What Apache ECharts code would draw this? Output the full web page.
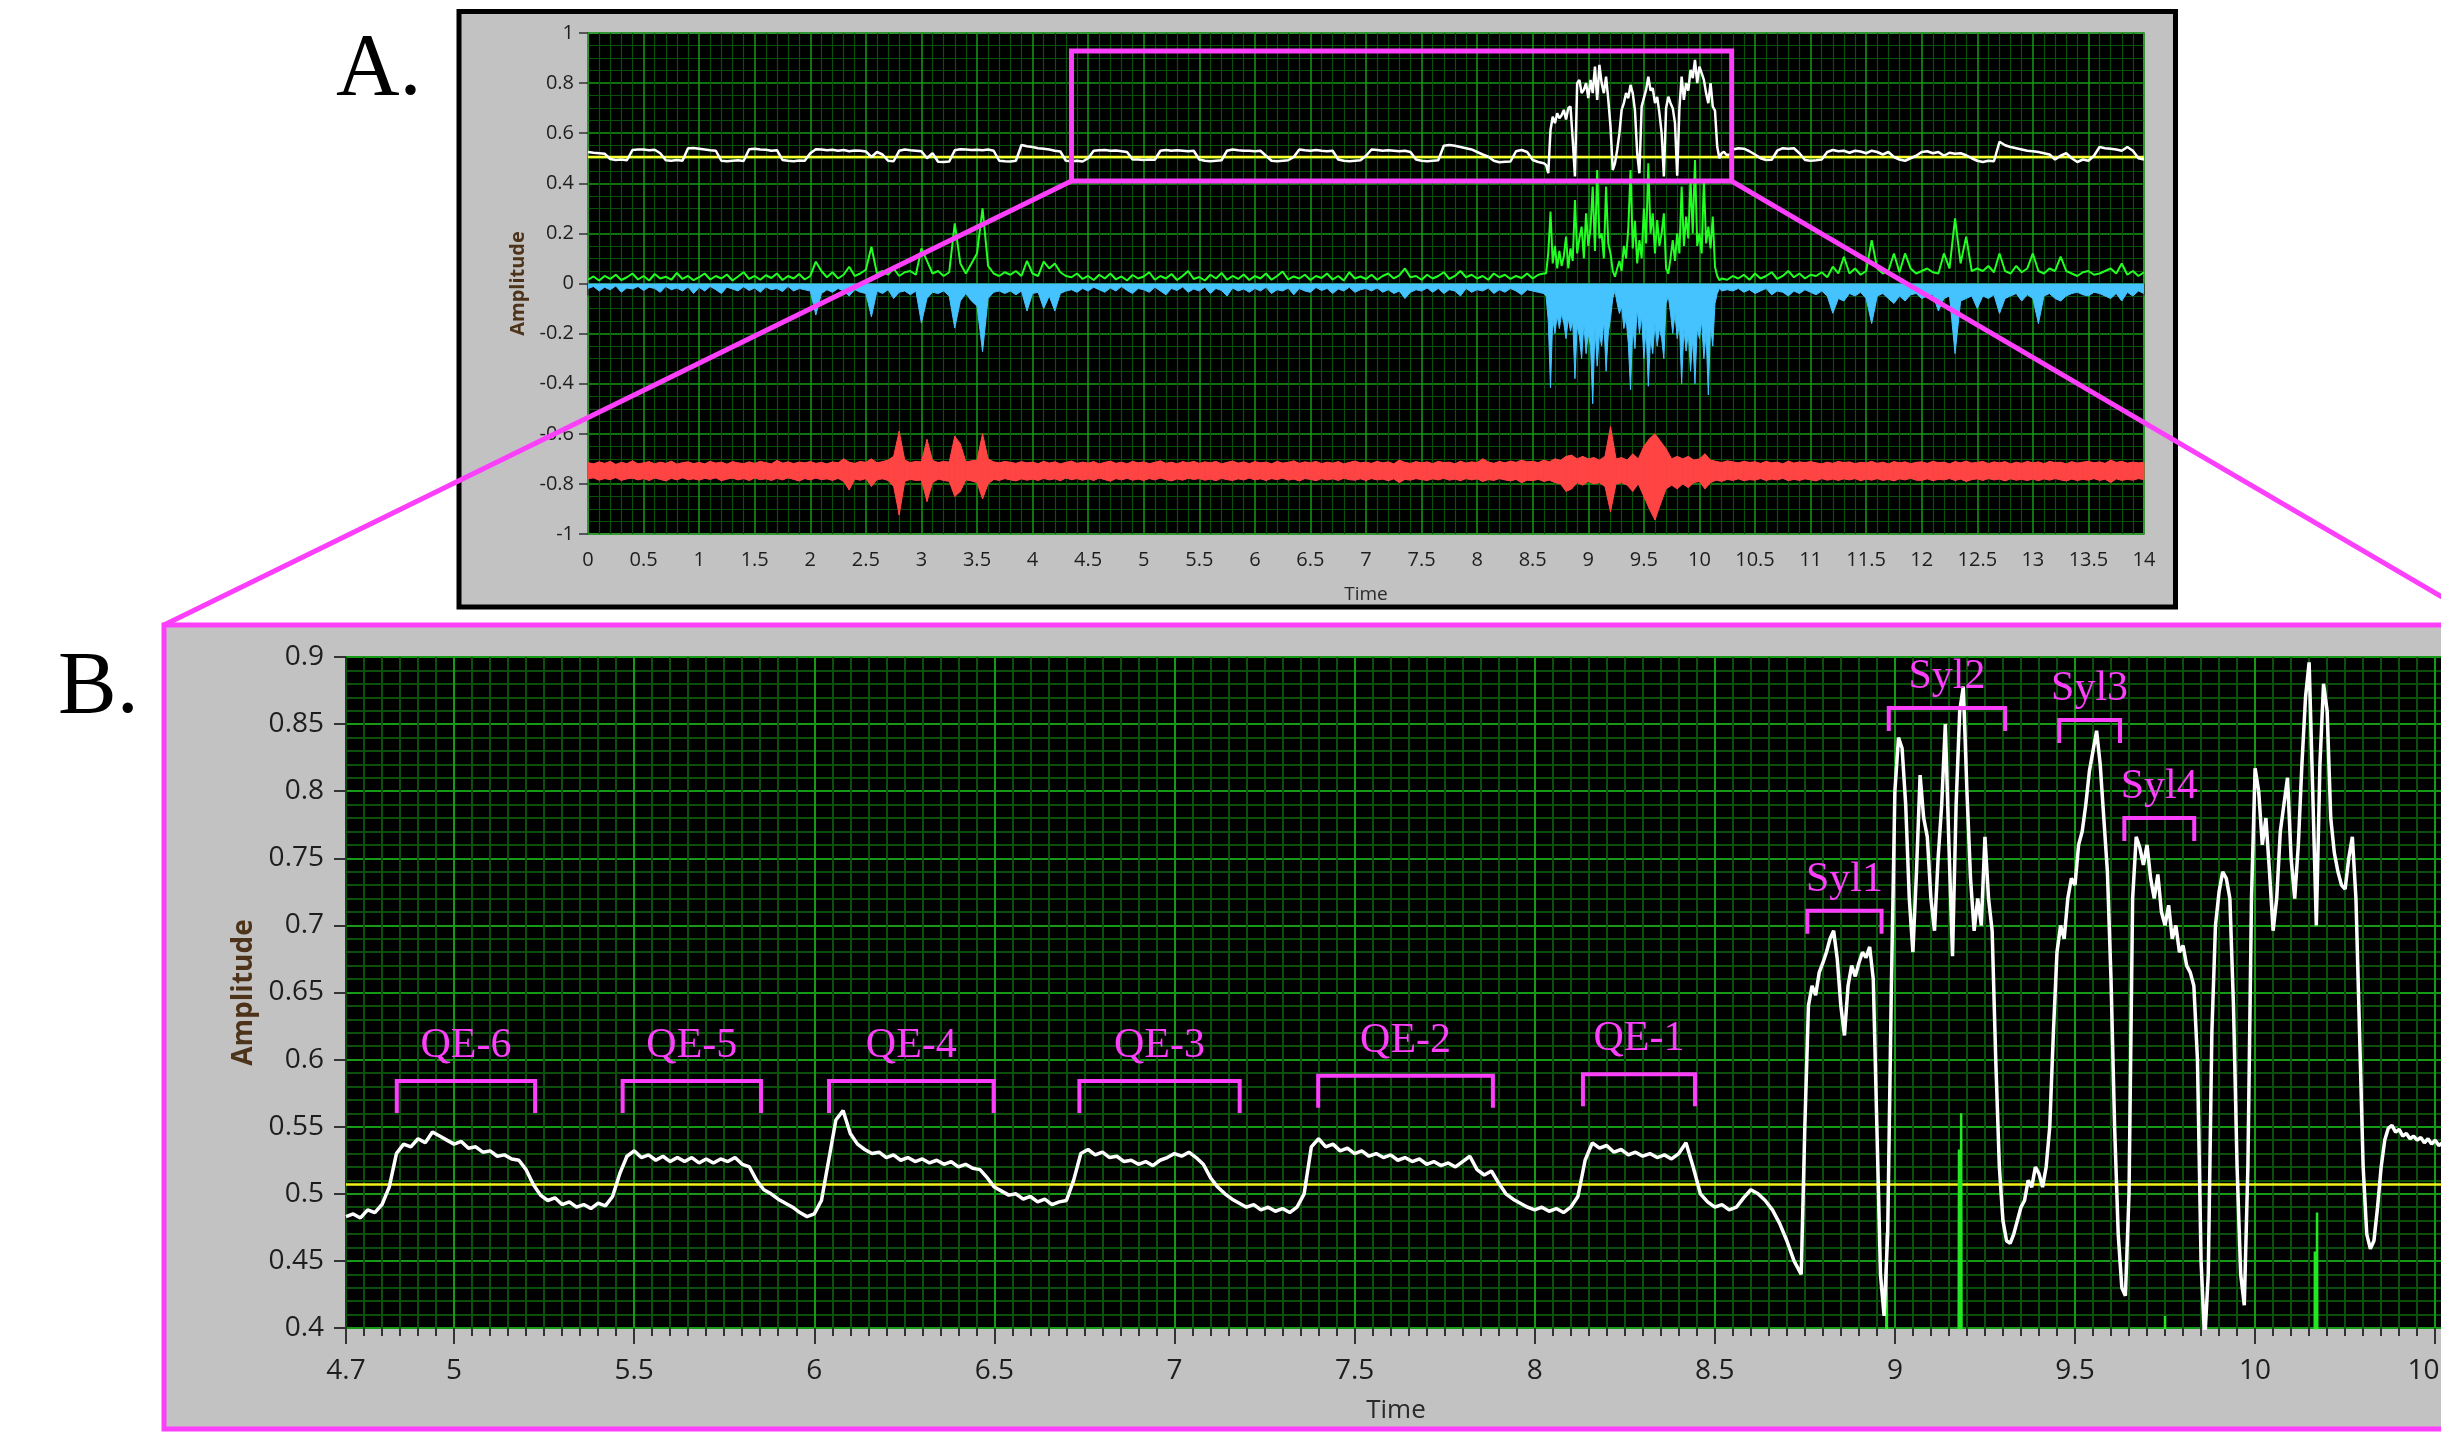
<!DOCTYPE html>
<html><head><meta charset="utf-8">
<script src="https://cdn.jsdelivr.net/npm/echarts@6/dist/echarts.min.js"></script>
<style>html,body{margin:0;padding:0;background:#fff}#c{width:2441px;height:1434px}</style>
</head><body><div id="c"></div>
<script>
// ---------------- DATA ----------------
// Panel A (Time 0..14 s)
const yellowLevelA = 0.505;
const yellowLevelB = 0.507;
// white envelope, panel A: 0..8.55 step 0.05
const whiteA1 = [.525,.522,.52,.518,.497,.493,.495,.492,.533,.535,
 .535,.532,.534,.52,.492,.49,.493,.49,.54,.541,
 .538,.535,.532,.53,.49,.488,.49,.492,.489,.536,
 .538,.535,.534,.53,.532,.493,.49,.488,.491,.49,
 .52,.536,.535,.532,.534,.53,.533,.528,.531,.53,
 .527,.505,.525,.515,.49,.488,.53,.535,.532,.53,
 .528,.5,.52,.486,.485,.487,.532,.536,.535,.533,
 .534,.532,.535,.53,.49,.488,.487,.49,.553,.548,
 .545,.54,.538,.535,.53,.527,.49,.488,.49,.487,
 .5,.53,.532,.533,.53,.531,.528,.525,.495,.495,
 .493,.495,.494,.53,.533,.53,.532,.53,.528,.53,
 .495,.49,.488,.49,.492,.53,.535,.532,.53,.53,
 .528,.53,.51,.49,.488,.49,.492,.505,.535,.532,
 .53,.533,.53,.528,.53,.495,.49,.488,.49,.492,
 .51,.535,.533,.53,.532,.53,.528,.53,.525,.495,
 .49,.488,.49,.492,.55,.553,.55,.545,.54,.535,
 .525,.515,.506,.49,.484,.486,.487,.528,.533,.525,
 .493,.485];
// white, panel A: 8.60..10.28 step 0.02
const whiteA2 = [.48,.473,.44,.613,.666,.64,.68,.66,.672,.693,
 .655,.70,.706,.573,.427,.80,.813,.76,.773,.80,
 .74,.813,.76,.866,.733,.873,.80,.76,.826,.733,
 .626,.453,.48,.533,.60,.693,.72,.76,.74,.793,
 .76,.69,.52,.44,.706,.74,.773,.826,.77,.78,
 .72,.745,.68,.60,.427,.70,.746,.72,.70,.64,
 .43,.70,.826,.733,.80,.77,.853,.82,.893,.80,
 .866,.84,.813,.76,.72,.80,.706,.69,.546,.50,
 .52,.526,.515,.513,.518];
// white, panel A: 10.30..14.00 step 0.05
const whiteA3 = [.535,.54,.538,.528,.515,.50,.493,.494,.53,.54,
 .538,.54,.52,.493,.49,.492,.495,.525,.533,.528,
 .53,.522,.53,.527,.52,.53,.525,.515,.525,.505,
 .495,.49,.50,.51,.525,.528,.52,.525,.51,.522,
 .518,.52,.512,.50,.49,.485,.49,.488,.566,.552,
 .545,.54,.535,.53,.528,.525,.52,.515,.495,.51,
 .52,.50,.485,.495,.49,.51,.545,.54,.538,.535,
 .53,.545,.53,.50,.495];
// green (positive), panel A: 0..8.60 step 0.05
const greenA1 = [.015,.028,.012,.03,.018,.035,.014,.025,.04,.016,
 .03,.012,.038,.02,.027,.015,.042,.018,.03,.013,
 .025,.04,.016,.03,.02,.036,.012,.028,.045,.018,
 .03,.015,.033,.022,.04,.014,.03,.02,.038,.016,
 .03,.087,.05,.025,.045,.02,.035,.067,.03,.04,
 .055,.147,.04,.05,.035,.06,.03,.045,.05,.035,
 .14,.09,.04,.05,.03,.045,.24,.08,.04,.08,
 .12,.30,.07,.04,.03,.045,.035,.05,.03,.09,
 .04,.03,.087,.06,.08,.045,.03,.025,.04,.018,
 .03,.014,.035,.02,.04,.016,.028,.012,.034,.02,
 .028,.045,.015,.03,.02,.038,.014,.03,.05,.018,
 .026,.012,.035,.02,.042,.015,.03,.018,.036,.014,
 .03,.02,.04,.015,.03,.048,.016,.028,.02,.035,
 .014,.03,.022,.04,.016,.03,.012,.045,.02,.028,
 .018,.035,.015,.03,.04,.02,.032,.06,.025,.03,
 .015,.035,.02,.03,.045,.018,.03,.05,.025,.035,
 .02,.03,.015,.04,.025,.035,.018,.03,.022,.04,
 .02,.035,.04];
// green, panel A: 8.62..10.20 step 0.02
const greenA2 = [.04,.12,.287,.08,.15,.06,.13,.07,.11,.187,
 .06,.14,.09,.333,.12,.18,.227,.1,.28,.15,
 .22,.387,.13,.453,.18,.2,.1,.387,.16,.12,
 .05,.027,.06,.09,.05,.15,.1,.22,.453,.14,
 .25,.08,.173,.1,.3,.16,.48,.2,.28,.12,
 .253,.15,.2,.28,.06,.04,.1,.173,.09,.2,
 .12,.387,.15,.267,.18,.413,.2,.493,.15,.2,
 .12,.413,.16,.227,.14,.267,.067,.03,.013,.02];
// green, panel A: 10.25..14.00 step 0.05
const greenA3 = [.015,.03,.02,.035,.015,.04,.02,.03,.045,.018,
 .03,.05,.025,.04,.02,.035,.03,.045,.025,.067,
 .04,.107,.04,.06,.035,.05,.173,.06,.04,.05,
 .12,.045,.12,.06,.04,.05,.06,.045,.04,.12,
 .06,.26,.08,.187,.05,.06,.05,.07,.045,.12,
 .05,.04,.07,.045,.06,.12,.05,.04,.06,.05,
 .107,.05,.04,.03,.045,.05,.035,.04,.05,.06,
 .04,.08,.035,.05,.03,.045];
// blue (negative), panel A: 0..8.60 step 0.05
const blueA1 = [-.02,-.012,-.03,-.015,-.025,-.01,-.035,-.018,-.022,-.012,
 -.028,-.015,-.02,-.035,-.012,-.025,-.018,-.03,-.014,-.04,
 -.016,-.03,-.012,-.025,-.04,-.015,-.022,-.03,-.013,-.028,
 -.018,-.035,-.014,-.025,-.02,-.032,-.012,-.03,-.02,-.025,
 -.03,-.126,-.04,-.025,-.035,-.02,-.03,-.05,-.025,-.035,
 -.04,-.133,-.03,-.04,-.025,-.06,-.035,-.03,-.045,-.03,
 -.158,-.06,-.035,-.04,-.03,-.05,-.178,-.07,-.04,-.07,
 -.09,-.272,-.06,-.035,-.03,-.04,-.03,-.045,-.03,-.11,
 -.04,-.035,-.1,-.05,-.11,-.04,-.03,-.025,-.035,-.02,
 -.03,-.015,-.025,-.035,-.018,-.03,-.012,-.028,-.04,-.02,
 -.025,-.035,-.015,-.03,-.045,-.02,-.028,-.014,-.035,-.022,
 -.03,-.015,-.04,-.02,-.028,-.05,-.018,-.03,-.022,-.035,
 -.02,-.03,-.015,-.04,-.025,-.03,-.018,-.045,-.02,-.03,
 -.035,-.016,-.028,-.02,-.04,-.022,-.03,-.015,-.035,-.025,
 -.02,-.03,-.018,-.035,-.025,-.04,-.03,-.06,-.035,-.025,
 -.03,-.018,-.035,-.02,-.04,-.025,-.03,-.05,-.02,-.035,
 -.025,-.03,-.018,-.04,-.025,-.035,-.02,-.03,-.045,-.025,
 -.03,-.035,-.04];
// blue, panel A: 8.62..10.20 step 0.02
const blueA2 = [-.05,-.15,-.417,-.14,-.2,-.13,-.18,-.12,-.16,-.22,
 -.14,-.19,-.15,-.38,-.17,-.21,-.3,-.16,-.28,-.2,
 -.25,-.48,-.18,-.33,-.2,-.25,-.15,-.35,-.2,-.14,
 -.06,-.03,-.08,-.12,-.09,-.18,-.14,-.24,-.425,-.17,
 -.26,-.1,-.2,-.13,-.3,-.18,-.41,-.22,-.28,-.16,
 -.25,-.18,-.22,-.3,-.08,-.05,-.12,-.2,-.12,-.22,
 -.16,-.4,-.18,-.27,-.2,-.35,-.22,-.4,-.18,-.22,
 -.15,-.3,-.2,-.445,-.17,-.25,-.08,-.04,-.02,-.03];
// blue, panel A: 10.25..14.00 step 0.05
const blueA3 = [-.025,-.03,-.02,-.035,-.025,-.04,-.03,-.02,-.045,-.03,
 -.035,-.05,-.03,-.04,-.025,-.035,-.045,-.03,-.05,-.119,
 -.06,-.07,-.04,-.05,-.035,-.06,-.16,-.05,-.04,-.06,
 -.08,-.05,-.07,-.045,-.04,-.06,-.05,-.045,-.11,-.06,
 -.05,-.28,-.07,-.06,-.05,-.1,-.05,-.06,-.045,-.12,
 -.06,-.05,-.04,-.07,-.045,-.06,-.16,-.05,-.04,-.06,
 -.07,-.05,-.04,-.035,-.045,-.05,-.035,-.04,-.05,-.06,
 -.04,-.07,-.035,-.05,-.03,-.04];
// red signal envelope, panel A: 0..14 step 0.05
const redUpper = [-.715,-.72,-.712,-.718,-.71,-.722,-.714,-.719,-.708,-.72,
 -.716,-.711,-.72,-.713,-.718,-.709,-.721,-.715,-.712,-.719,
 -.714,-.72,-.71,-.717,-.713,-.721,-.711,-.716,-.719,-.712,
 -.718,-.71,-.715,-.72,-.706,-.717,-.712,-.719,-.713,-.716,
 -.711,-.718,-.714,-.72,-.712,-.716,-.7,-.713,-.718,-.71,
 -.714,-.70,-.716,-.711,-.705,-.69,-.59,-.705,-.715,-.71,
 -.712,-.623,-.706,-.715,-.71,-.713,-.61,-.64,-.712,-.708,
 -.705,-.6,-.7,-.712,-.716,-.71,-.714,-.718,-.711,-.716,
 -.713,-.719,-.71,-.717,-.712,-.72,-.714,-.709,-.718,-.713,
 -.717,-.711,-.72,-.714,-.709,-.718,-.713,-.72,-.71,-.716,
 -.712,-.719,-.714,-.708,-.718,-.713,-.72,-.711,-.716,-.71,
 -.718,-.712,-.716,-.71,-.72,-.714,-.709,-.717,-.712,-.719,
 -.711,-.716,-.713,-.72,-.71,-.717,-.714,-.708,-.718,-.712,
 -.716,-.71,-.719,-.713,-.717,-.711,-.72,-.714,-.709,-.716,
 -.713,-.718,-.71,-.716,-.712,-.72,-.705,-.714,-.718,-.711,
 -.716,-.712,-.719,-.71,-.715,-.713,-.72,-.709,-.717,-.712,
 -.715,-.7,-.712,-.718,-.71,-.716,-.709,-.714,-.705,-.712,
 -.71,-.715,-.705,-.712,-.7,-.706,-.69,-.685,-.7,-.69,
 -.7,-.695,-.705,-.69,-.571,-.7,-.695,-.705,-.68,-.7,
 -.65,-.62,-.6,-.63,-.66,-.7,-.69,-.7,-.69,-.705,
 -.7,-.68,-.705,-.71,-.715,-.708,-.712,-.716,-.71,-.714,
 -.712,-.718,-.71,-.716,-.713,-.72,-.709,-.717,-.712,-.715,
 -.711,-.716,-.72,-.713,-.718,-.71,-.715,-.712,-.719,-.714,
 -.716,-.71,-.718,-.713,-.72,-.711,-.716,-.712,-.719,-.714,
 -.712,-.718,-.71,-.715,-.713,-.72,-.711,-.716,-.709,-.717,
 -.714,-.71,-.719,-.712,-.716,-.711,-.72,-.713,-.718,-.71,
 -.716,-.712,-.719,-.71,-.715,-.713,-.72,-.711,-.717,-.713,
 -.71,-.716,-.712,-.718,-.705,-.714,-.71,-.717,-.713,-.716,
 -.714];
const redLower = [-.78,-.776,-.785,-.779,-.783,-.775,-.786,-.78,-.777,-.784,
 -.779,-.786,-.777,-.782,-.788,-.778,-.784,-.776,-.783,-.78,
 -.785,-.778,-.782,-.776,-.787,-.781,-.777,-.784,-.779,-.786,
 -.777,-.783,-.78,-.786,-.778,-.784,-.776,-.782,-.788,-.779,
 -.784,-.777,-.783,-.78,-.786,-.778,-.79,-.824,-.781,-.785,
 -.779,-.81,-.783,-.78,-.786,-.81,-.924,-.79,-.782,-.786,
 -.785,-.87,-.795,-.781,-.786,-.79,-.85,-.83,-.784,-.788,
 -.795,-.86,-.8,-.782,-.786,-.779,-.784,-.788,-.78,-.785,
 -.781,-.786,-.778,-.784,-.78,-.787,-.777,-.783,-.779,-.785,
 -.78,-.786,-.777,-.783,-.789,-.779,-.784,-.778,-.785,-.781,
 -.786,-.779,-.784,-.777,-.783,-.788,-.78,-.785,-.778,-.782,
 -.779,-.785,-.781,-.787,-.778,-.783,-.786,-.78,-.784,-.777,
 -.784,-.78,-.786,-.779,-.783,-.777,-.785,-.781,-.788,-.779,
 -.782,-.787,-.779,-.784,-.78,-.786,-.778,-.783,-.785,-.78,
 -.786,-.779,-.784,-.781,-.787,-.78,-.795,-.782,-.785,-.779,
 -.783,-.786,-.78,-.784,-.778,-.785,-.781,-.787,-.779,-.784,
 -.78,-.79,-.783,-.786,-.779,-.784,-.788,-.782,-.795,-.785,
 -.787,-.782,-.79,-.785,-.795,-.8,-.83,-.82,-.795,-.805,
 -.79,-.8,-.795,-.81,-.911,-.8,-.795,-.805,-.83,-.8,
 -.85,-.9,-.944,-.88,-.82,-.805,-.82,-.8,-.815,-.795,
 -.79,-.82,-.795,-.785,-.79,-.782,-.786,-.78,-.787,-.783,
 -.785,-.779,-.786,-.781,-.784,-.778,-.787,-.782,-.786,-.78,
 -.784,-.788,-.779,-.785,-.781,-.786,-.78,-.784,-.779,-.787,
 -.781,-.785,-.779,-.786,-.782,-.788,-.78,-.784,-.778,-.785,
 -.786,-.78,-.787,-.782,-.784,-.779,-.786,-.781,-.79,-.783,
 -.78,-.786,-.779,-.784,-.781,-.788,-.78,-.785,-.782,-.786,
 -.781,-.787,-.78,-.785,-.779,-.784,-.788,-.781,-.786,-.782,
 -.785,-.779,-.786,-.781,-.795,-.78,-.786,-.782,-.785,-.779,
 -.783];
// Panel B (zoomed, Time 4.7..10.53 s)
// white, 4.70..8.74 step 0.02
const whiteB1 = [.483,.485,.482,.488,.486,.492,.505,.53,.537,.535,
 .541,.538,.546,.543,.54,.537,.539,.534,.535,.531,
 .532,.528,.529,.526,.525,.518,.507,.499,.495,.497,
 .492,.494,.49,.492,.489,.493,.491,.498,.515,.528,
 .532,.527,.529,.525,.528,.524,.527,.524,.527,.523,
 .526,.523,.526,.524,.527,.522,.52,.51,.503,.5,
 .496,.493,.49,.486,.483,.485,.495,.525,.555,.562,
 .545,.537,.533,.53,.531,.527,.529,.525,.527,.524,
 .526,.523,.525,.522,.524,.52,.522,.519,.518,.512,
 .505,.502,.499,.5,.496,.498,.494,.496,.492,.494,
 .495,.51,.53,.533,.529,.531,.527,.528,.524,.525,
 .522,.524,.521,.525,.527,.53,.528,.531,.527,.522,
 .512,.505,.5,.496,.493,.49,.492,.488,.49,.487,
 .489,.486,.49,.5,.535,.541,.535,.537,.532,.534,
 .53,.532,.528,.53,.527,.529,.525,.527,.524,.526,
 .522,.524,.521,.523,.52,.524,.528,.518,.514,.517,
 .508,.5,.496,.493,.49,.488,.49,.487,.489,.486,
 .49,.498,.525,.538,.534,.536,.531,.533,.529,.531,
 .528,.53,.527,.529,.526,.53,.538,.52,.5,.494,
 .49,.492,.488,.49,.497,.503,.5,.495,.488,.478,
 .465,.45,.44];
// white, 8.75..10.53 step 0.01
const whiteB2 = [.55,.64,.655,.648,.665,.672,.68,.69,.696,.675,
 .64,.618,.655,.67,.662,.672,.68,.676,.684,.66,
 .55,.44,.409,.47,.65,.8,.84,.832,.79,.72,
 .68,.74,.812,.78,.766,.72,.696,.75,.79,.85,
 .76,.677,.79,.86,.878,.8,.735,.696,.72,.7,
 .766,.72,.696,.6,.52,.48,.465,.463,.47,.48,
 .49,.495,.51,.505,.52,.515,.505,.52,.55,.62,
 .68,.7,.69,.72,.735,.73,.76,.77,.79,.815,
 .83,.845,.82,.78,.74,.66,.55,.47,.43,.424,
 .5,.72,.766,.758,.745,.76,.735,.72,.738,.71,
 .7,.715,.69,.7,.68,.685,.67,.665,.655,.6,
 .45,.39,.44,.62,.7,.725,.74,.735,.72,.64,
 .52,.44,.417,.52,.72,.817,.8,.76,.78,.74,
 .696,.72,.77,.79,.81,.75,.72,.76,.82,.87,
 .896,.8,.7,.82,.88,.86,.78,.754,.74,.73,
 .727,.75,.766,.72,.62,.52,.47,.459,.465,.49,
 .52,.54,.549,.551,.546,.548,.543,.545,.541,.543,
 .54,.542,.538,.541,.537,.54,.536,.538,.541];
// green spikes reaching into panel B (time, amplitude)
const greenBT = [4.70,8.972,8.977,8.982,9.175,9.178,9.181,9.184,9.187,9.745,9.75,9.755,10.163,10.166,10.169,10.172,10.175,10.53];
const greenBV = [0.03,0.05,0.471,0.05,0.05,0.533,0.1,0.56,0.05,0.05,0.409,0.05,0.05,0.457,0.1,0.486,0.05,0.03];
// annotations, panel B
const bracketLabels = ['QE-6','QE-5','QE-4','QE-3','QE-2','QE-1','Syl1','Syl2','Syl3','Syl4'];
const bracketStart = [4.841,5.468,6.041,6.736,7.399,8.134,8.757,8.983,9.456,9.637];
const bracketEnd   = [5.225,5.852,6.498,7.181,7.884,8.445,8.963,9.306,9.625,9.831];
const bracketLevel = [0.584,0.584,0.584,0.584,0.588,0.589,0.711,0.862,0.853,0.780];
// zoom box in panel A: [t0, t1, vLow, vHigh]
const zoomBox = [4.35, 10.29, 0.409, 0.928];
// tick labels panel B
const bMajorTicks = [4.7,5,5.5,6,6.5,7,7.5,8,8.5,9,9.5,10,10.5];

// ---------------- BUILD ----------------
function sampled(t0, dt, vals){ return vals.map((v,i)=>[+(t0+i*dt).toFixed(3), v]); }
const whiteA = [].concat(sampled(0,0.05,whiteA1), sampled(8.6,0.02,whiteA2), sampled(10.3,0.05,whiteA3));
const greenA = [].concat(sampled(0,0.05,greenA1), sampled(8.62,0.02,greenA2), sampled(10.25,0.05,greenA3));
const blueA  = [].concat(sampled(0,0.05,blueA1), sampled(8.62,0.02,blueA2), sampled(10.25,0.05,blueA3));
const redData = redUpper.map((u,i)=>[+(i*0.05).toFixed(3), u, redLower[i]]);
const whiteB = [].concat(sampled(4.7,0.02,whiteB1), sampled(8.75,0.01,whiteB2));
const greenB = greenBT.map((t,i)=>[t, greenBV[i]]);
const bracketData = bracketLabels.map((l,i)=>[bracketStart[i], bracketEnd[i], bracketLevel[i]]);

const MAG = '#fb3ffb';
const GMAJ = '#159a15';
const GMIN = '#0a500a';
const TICK = '#333';
const LBL = '#1e1e1e';
const RED = '#ff4444';
const FONT = '"Open Sans", "Noto Sans", sans-serif';
const bColors = [GMIN,GMIN,GMIN,GMIN,GMIN,GMIN,GMAJ,GMIN,GMIN,GMIN];

const chart = echarts.init(document.getElementById('c'), null, {renderer:'canvas'});
const option = {
  animation:false,
  backgroundColor:'#ffffff',
  textStyle:{fontFamily:FONT},
  grid:[
    {left:588, top:33, width:1556, height:501, show:true, backgroundColor:'#000', borderColor:'#8a8a8a', borderWidth:2,
     containLabel:false, outerBoundsMode:'none'},
    {left:346, top:657, width:2100, height:671, show:true, backgroundColor:'#000', borderColor:'#8a8a8a', borderWidth:2,
     containLabel:false, outerBoundsMode:'none'}
  ],
  xAxis:[
    {gridIndex:0, type:'value', min:0, max:14, interval:0.5, position:'bottom',
     axisLine:{show:false},
     axisTick:{show:true, length:12, lineStyle:{color:TICK, width:1.5}},
     minorTick:{show:true, splitNumber:5, length:7, lineStyle:{color:TICK, width:1.5}},
     axisLabel:{fontSize:20, margin:16, color:LBL, fontFamily:FONT},
     splitLine:{show:true, lineStyle:{color:GMAJ, width:1.5}},
     minorSplitLine:{show:true, lineStyle:{color:GMIN, width:1.2}},
     name:'Time', nameLocation:'middle', nameGap:51,
     nameTextStyle:{fontSize:19, color:'#2a2a2a', fontFamily:FONT}},
    {gridIndex:1, type:'value', min:4.7, max:10.53, interval:0.05, position:'bottom',
     axisLine:{show:false},
     axisTick:{show:true, length:8, lineStyle:{color:TICK, width:2}},
     axisLabel:{show:false},
     splitLine:{show:true, lineStyle:{color:bColors, width:2}},
     name:'Time', nameLocation:'middle', nameGap:70,
     nameTextStyle:{fontSize:26, color:'#2a2a2a', fontFamily:FONT}},
    {gridIndex:1, type:'value', min:4.7, max:10.53, position:'bottom',
     axisLine:{show:false},
     axisTick:{show:true, length:16, customValues:bMajorTicks, lineStyle:{color:TICK, width:2}},
     axisLabel:{show:true, customValues:bMajorTicks, fontSize:28, margin:29, color:LBL, fontFamily:FONT},
     splitLine:{show:false}}
  ],
  yAxis:[
    {gridIndex:0, type:'value', min:-1, max:1, interval:0.2,
     axisLine:{show:false},
     axisTick:{show:true, length:9, lineStyle:{color:TICK, width:1.5}},
     axisLabel:{fontSize:20, margin:14, color:LBL, fontFamily:FONT},
     splitLine:{show:true, lineStyle:{color:GMAJ, width:1.5}},
     minorTick:{show:false, splitNumber:4},
     minorSplitLine:{show:true, lineStyle:{color:GMIN, width:1.2}},
     name:'Amplitude', nameLocation:'middle', nameGap:60, nameRotate:90,
     nameTextStyle:{fontSize:20, fontWeight:'bold', color:'#4d3319', fontFamily:FONT}},
    {gridIndex:1, type:'value', min:0.4, max:0.9, interval:0.05,
     axisLine:{show:false},
     axisTick:{show:true, length:12, lineStyle:{color:TICK, width:2}},
     axisLabel:{fontSize:28, margin:22, color:LBL, fontFamily:FONT},
     splitLine:{show:true, lineStyle:{color:GMAJ, width:2}},
     minorTick:{show:false, splitNumber:5},
     minorSplitLine:{show:true, lineStyle:{color:GMIN, width:2}},
     name:'Amplitude', nameLocation:'middle', nameGap:88, nameRotate:90,
     nameTextStyle:{fontSize:28, fontWeight:'bold', color:'#4d3319', fontFamily:FONT}}
  ],
  series:[
    {type:'custom', xAxisIndex:0, yAxisIndex:0, data:redData, encode:{x:0, y:[1,2]},
     renderItem:function(params, api){
       const i = params.dataIndex;
       if (i >= redData.length - 1) return null;
       const n = redData[i+1];
       const a1 = api.coord([api.value(0), api.value(1)]);
       const a2 = api.coord([api.value(0), api.value(2)]);
       const b1 = api.coord([n[0], n[1]]);
       const b2 = api.coord([n[0], n[2]]);
       return {type:'polygon', shape:{points:[a1,b1,b2,a2]}, style:{fill:RED, stroke:RED, lineWidth:1}};
     }},
    {type:'line', xAxisIndex:0, yAxisIndex:0, data:blueA, symbol:'none',
     lineStyle:{color:'#45c3ff', width:1}, areaStyle:{color:'#45c3ff', opacity:1}},
    {type:'line', xAxisIndex:0, yAxisIndex:0, data:greenA, symbol:'none',
     lineStyle:{color:'#22ff22', width:2}},
    {type:'line', xAxisIndex:0, yAxisIndex:0, data:[[0,yellowLevelA],[14,yellowLevelA]], symbol:'none',
     lineStyle:{color:'#ffff30', width:2.5}},
    {type:'line', xAxisIndex:0, yAxisIndex:0, data:whiteA, symbol:'none',
     lineStyle:{color:'#ffffff', width:2.5}},
    // panel B
    {type:'line', xAxisIndex:1, yAxisIndex:1, data:[[4.7,yellowLevelB],[10.53,yellowLevelB]], symbol:'none',
     lineStyle:{color:'#f2f21a', width:2.5}},
    {type:'line', xAxisIndex:1, yAxisIndex:1, data:greenB, symbol:'none',
     lineStyle:{color:'#22e822', width:2.5}},
    {type:'line', xAxisIndex:1, yAxisIndex:1, data:whiteB, symbol:'none',
     lineStyle:{color:'#ffffff', width:3.5}},
    {type:'custom', xAxisIndex:1, yAxisIndex:1, data:bracketData, clip:false, z:10,
     encode:{x:[0,1], y:2},
     renderItem:function(params, api){
       const a = api.coord([api.value(0), api.value(2)]);
       const b = api.coord([api.value(1), api.value(2)]);
       const lbl = bracketLabels[params.dataIndex];
       const isQE = lbl.indexOf('QE') === 0;
       const leg = isQE ? 32 : 23;
       const gap = isQE ? 35 : 31;
       return {type:'group', children:[
         {type:'polyline', shape:{points:[[a[0],a[1]+leg],[a[0],a[1]],[b[0],b[1]],[b[0],b[1]+leg]]},
          style:{stroke:MAG, lineWidth:4, fill:null}},
         {type:'text', x:(a[0]+b[0])/2, y:a[1]-gap,
          style:{text:lbl, fill:MAG, font:'42px "Liberation Serif", serif', align:'center', verticalAlign:'middle'}}
       ]};
     }}
  ]
};
chart.setOption(option);

const pTL = chart.convertToPixel({gridIndex:0}, [zoomBox[0], zoomBox[3]]);
const pBR = chart.convertToPixel({gridIndex:0}, [zoomBox[1], zoomBox[2]]);
const frameB = {x:164, y:625, w:2400, h:804};
chart.setOption({graphic:[
  {type:'rect', z:-5, shape:{x:459, y:11.5, width:1716.5, height:595.5}, style:{fill:'#c2c2c2', stroke:'#000', lineWidth:5}},
  {type:'rect', z:-5, shape:{x:frameB.x, y:frameB.y, width:frameB.w, height:frameB.h}, style:{fill:'#c2c2c2', stroke:MAG, lineWidth:5}},
  {type:'text', z:5, x:336, y:71, style:{text:'A.', fill:'#000', font:'88px "Liberation Serif", serif', align:'left', verticalAlign:'middle'}},
  {type:'text', z:5, x:58, y:689, style:{text:'B.', fill:'#000', font:'88px "Liberation Serif", serif', align:'left', verticalAlign:'middle'}},
  {type:'rect', z:50, shape:{x:pTL[0], y:pTL[1], width:pBR[0]-pTL[0], height:pBR[1]-pTL[1]}, style:{fill:null, stroke:MAG, lineWidth:5}},
  {type:'line', z:50, shape:{x1:pTL[0], y1:pBR[1], x2:frameB.x, y2:frameB.y}, style:{stroke:MAG, lineWidth:5}},
  {type:'line', z:50, shape:{x1:pBR[0], y1:pBR[1], x2:2490, y2:frameB.y}, style:{stroke:MAG, lineWidth:5}}
]});
</script></body></html>
